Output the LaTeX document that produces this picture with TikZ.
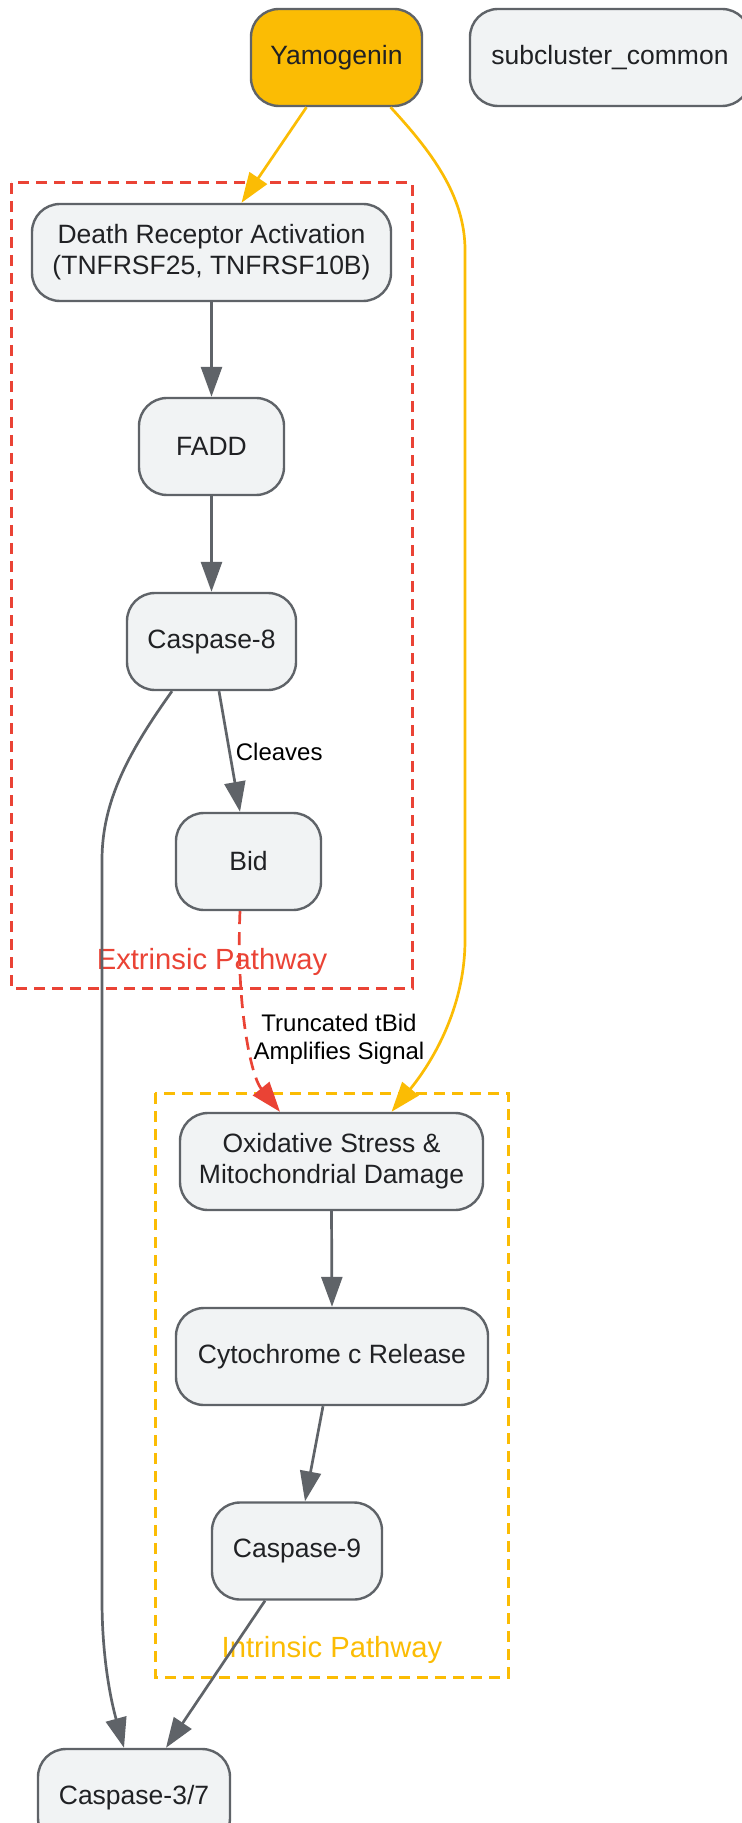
\documentclass[tikz,border=0pt]{standalone}
\usepackage{fontspec}
\setmainfont{Liberation Sans}
\usetikzlibrary{calc, arrows.meta}

\definecolor{gyellow}{HTML}{FBBC04}
\definecolor{gred}{HTML}{EA4335}
\definecolor{ggray}{HTML}{5F6368}
\definecolor{gfill}{HTML}{F1F3F4}
\definecolor{gtext}{HTML}{202124}

\tikzset{
  pathnode/.style={draw=ggray, line width=1.2pt, fill=gfill, rounded corners=14pt,
    minimum height=48.5pt, inner sep=0pt, align=center, text=gtext,
    font=\fontsize{13.25}{15.5}\selectfont},
  flow/.style={draw=ggray, line width=1.35pt, -{Triangle[length=15pt,width=10.5pt]}},
  edgelbl/.style={text=black, align=center, inner sep=0pt, font=\fontsize{12}{14}\selectfont},
  cluster/.style={line width=1.5pt, dash pattern=on 5.5pt off 3.5pt},
  clusterlbl/.style={inner sep=0pt, font=\fontsize{14.6}{17}\selectfont},
}

\begin{document}
\begin{tikzpicture}[x=0.5pt, y=-0.5pt]
  \useasboundingbox (0,0) rectangle (742,1823);

  % Pathway boxes
  \draw[cluster, gred] (11,183) rectangle (412,988);
  \node[clusterlbl, text=gred] (extlbl) at (212,962) {Extrinsic Pathway};
  \draw[cluster, gyellow] (155,1093) rectangle (508,1677);
  \node[clusterlbl, text=gyellow] (intlbl) at (332,1650) {Intrinsic Pathway};

  % Nodes
  \node[pathnode, fill=gyellow, minimum width=85.5pt] (yam) at (336.5,57.5) {Yamogenin};
  \node[pathnode, minimum width=140pt] (sub) at (610,57.5) {subcluster\_common};
  \node[pathnode, minimum width=179.5pt] (dr) at (211.5,252.5) {Death Receptor Activation\\(TNFRSF25, TNFRSF10B)};
  \node[pathnode, minimum width=72.5pt] (fadd) at (211.5,446.5) {FADD};
  \node[pathnode, minimum width=84.5pt] (casp8) at (211.5,641.5) {Caspase-8};
  \node[pathnode, minimum width=72.5pt] (bid) at (248.5,861.5) {Bid};
  \node[pathnode, minimum width=151.5pt] (oxid) at (331.5,1161.5) {Oxidative Stress \&\\Mitochondrial Damage};
  \node[pathnode, minimum width=156pt] (cytc) at (332,1356.5) {Cytochrome c Release};
  \node[pathnode, minimum width=85pt] (casp9) at (297,1551) {Caspase-9};
  \node[pathnode, minimum width=96pt] (casp37) at (134,1797.5) {Caspase-3/7};

  % Yamogenin targets
  \draw[flow, draw=gyellow, -{Triangle[length=15pt,width=10.5pt,fill=gyellow]}]
    ([xshift=-15pt]yam.south) -- ([xshift=15pt]dr.north);
  \draw[flow, draw=gyellow, -{Triangle[length=15pt,width=10.5pt,fill=gyellow]}]
    ([xshift=27pt]yam.south) .. controls (430,150) and (465,195) .. (465,250)
    -- (465,940) .. controls (465,1010) and (430,1065) .. ([xshift=30pt]oxid.north);

  % Extrinsic chain
  \draw[flow] (dr.south) -- (fadd.north);
  \draw[flow] (fadd.south) -- (casp8.north);
  \draw[flow] ([xshift=3.75pt]casp8.south) -- ([xshift=-4.25pt]bid.north)
    node[edgelbl, pos=0.5, right=2.5pt] (cleave) {Cleaves};
  \draw[flow] ([xshift=-19.75pt]casp8.south) .. controls (130,750) and (102,800) .. (102,860)
    -- (102,1600) .. controls (102,1670) and (115,1715) .. ([xshift=-5pt]casp37.north);

  % tBid crosstalk
  \draw[flow, draw=gred, dash pattern=on 6.5pt off 4pt, -{Triangle[length=15pt,width=10.5pt,fill=gred]}]
    ([xshift=-4.25pt]bid.south) .. controls (236,1000) and (250,1075) .. ([xshift=-25.75pt]oxid.north);
  \node[edgelbl] (tbid) at (339,1039) {Truncated tBid\\Amplifies Signal};

  % Intrinsic chain
  \draw[flow] (oxid.south) -- (cytc.north);
  \draw[flow] ([xshift=-4.5pt]cytc.south) -- ([xshift=4pt]casp9.north);
  \draw[flow] ([xshift=-16pt]casp9.south) -- ([xshift=16pt]casp37.north);
\end{tikzpicture}
\end{document}
